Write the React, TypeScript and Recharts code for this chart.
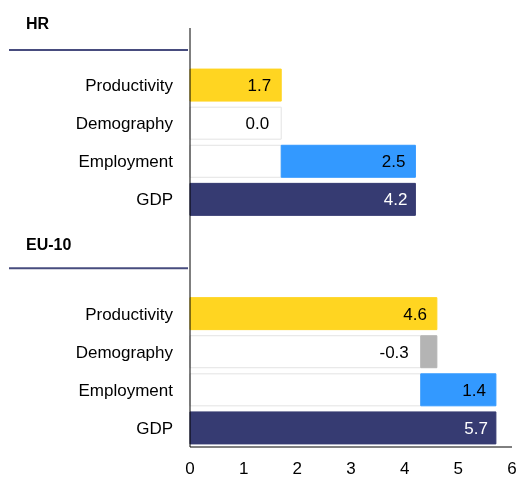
import { BarChart, Bar, XAxis, YAxis, Cell, LabelList } from "recharts";

const regions = ["HR", "EU-10"];
const categories = ["Productivity", "Demography", "Employment", "GDP"];
const hrValues = [1.7, 0.0, 2.5, 4.2];
const euValues = [4.6, -0.3, 1.4, 5.7];
const xTicks = [0, 1, 2, 3, 4, 5, 6];

const COLORS: Record<string, string> = {
  Productivity: "#FFD521",
  Demography: "#B4B4B4",
  Employment: "#3399FF",
  GDP: "#363B72",
};

type Row = {
  key: string;
  name: string;
  header?: string;
  headerDy?: number;
  lineDy?: number;
  base?: number;
  len?: number;
  color?: string;
  posLabel?: number;
  gdpLabel?: number;
  negLabel?: number;
};

// waterfall: components stack on each other, GDP is drawn from zero
function buildRows(prefix: string, values: number[]): Row[] {
  let cum = 0;
  return categories.map((cat, i) => {
    const v = values[i];
    const row: Row = { key: `${prefix}-${i}`, name: cat };
    if (cat === "GDP") {
      row.base = 0;
      row.len = v;
      row.gdpLabel = v;
    } else if (v <= 0) {
      row.base = cum + v;
      row.len = -v;
      row.negLabel = v;
      cum += v;
    } else {
      row.base = cum;
      row.len = v;
      row.posLabel = v;
      cum += v;
    }
    row.color = v === 0 ? COLORS.Productivity : COLORS[cat];
    return row;
  });
}

const rows: Row[] = [
  { key: "hr-head", name: "", header: regions[0], headerDy: -17.7, lineDy: 3 },
  ...buildRows("hr", hrValues),
  { key: "eu-head", name: "", header: regions[1], headerDy: 12.5, lineDy: 30.8 },
  { key: "gap", name: "" },
  ...buildRows("eu", euValues),
];

const rowByKey: Record<string, Row> = {};
rows.forEach((r) => (rowByKey[r.key] = r));

function RowTick(props: any) {
  const { x, y, payload } = props;
  const row = rowByKey[payload.value];
  if (!row) return null;
  if (row.header) {
    return (
      <g>
        <text x={18} y={y + (row.headerDy ?? 0)} fontSize={16} fontWeight="bold" fill="#000">
          {row.header}
        </text>
        <line
          x1={1}
          x2={180}
          y1={y + (row.lineDy ?? 0)}
          y2={y + (row.lineDy ?? 0)}
          stroke="#474c7e"
          strokeWidth={2}
        />
      </g>
    );
  }
  return (
    <text x={x} y={y} dy="0.355em" textAnchor="end" fontSize={17} fill="#000">
      {row.name}
    </text>
  );
}

function makeLabel(fill: string, pad: number) {
  return (props: any) => {
    const { x, y, width, height, value } = props;
    if (value === undefined || value === null) return null;
    return (
      <text
        x={x + width - pad}
        y={y + height / 2}
        dy="0.355em"
        textAnchor="end"
        fontSize={17}
        fill={fill}
      >
        {Number(value).toFixed(1)}
      </text>
    );
  };
}

export default function App() {
  return (
    <div
      style={{
        position: "fixed",
        top: 8,
        left: 8,
        fontFamily: "'Liberation Sans', Arial, sans-serif",
        width: 510,
        height: 469,
      }}
    >
      <BarChart
        width={510}
        height={469}
        data={rows}
        layout="vertical"
        margin={{ top: 20, right: 6, bottom: 0, left: 0 }}
        barSize={32}
      >
        <XAxis
          type="number"
          domain={[0, 6]}
          ticks={xTicks}
          tickLine={false}
          axisLine={{ stroke: "#000" }}
          tick={{ fill: "#000", fontSize: 17 }}
          tickMargin={9}
          height={30}
        />
        <YAxis
          type="category"
          dataKey="key"
          width={182}
          interval={0}
          tickLine={false}
          tickMargin={11}
          axisLine={{ stroke: "#000" }}
          tick={<RowTick />}
        />
        <Bar dataKey="base" stackId="w" fill="#fff" stroke="#e3e3e3" isAnimationActive={false}>
          <LabelList dataKey="negLabel" content={makeLabel("#000", 12)} />
        </Bar>
        <Bar dataKey="len" stackId="w" isAnimationActive={false}>
          {rows.map((r) => (
            <Cell key={r.key} fill={r.color ?? "#fff"} stroke={r.color} />
          ))}
          <LabelList dataKey="posLabel" content={makeLabel("#000", 10)} />
          <LabelList dataKey="gdpLabel" content={makeLabel("#fff", 8)} />
        </Bar>
      </BarChart>
    </div>
  );
}
